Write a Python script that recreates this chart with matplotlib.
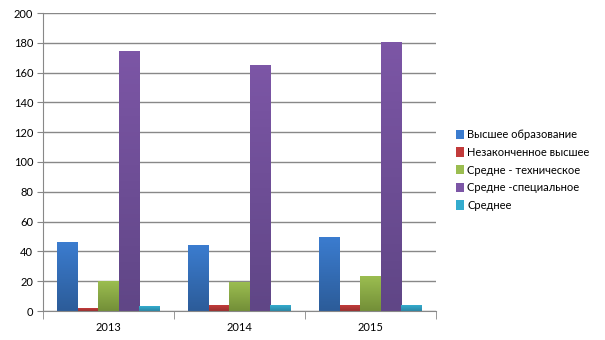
import numpy as np
import matplotlib.pyplot as plt
from matplotlib.colors import LinearSegmentedColormap

plt.rcParams['font.family'] = ['Lato', 'DejaVu Sans']

years = ['2013', '2014', '2015']
series = ['Высшее образование', 'Незаконченное высшее', 'Средне - техническое',
          'Средне -специальное', 'Среднее']
vysshee = [46, 44, 49]
nezakonch = [2, 3.5, 4]
tehn = [20, 19, 23]
spec = [174, 165, 180]
srednee = [3, 4, 4]
values = [vysshee, nezakonch, tehn, spec, srednee]

# (top colour, bottom colour) for the vertical gradient of each series
colors = [('#3b7ccf', '#2c5c99'),
          ('#c23b3b', '#9a302e'),
          ('#9bbd50', '#738f38'),
          ('#7c56a6', '#604686'),
          ('#34acce', '#2b87a5')]

fig = plt.figure(figsize=(6.05, 3.4), dpi=100)
ax = fig.add_axes([43 / 605, 29 / 340, 393 / 605, 298 / 340])

n = len(series)
group = 0.78
w = group / n
x = np.arange(len(years))

for i, (name, vals, (ctop, cbot)) in enumerate(zip(series, values, colors)):
    cmap = LinearSegmentedColormap.from_list(name, [cbot, ctop])
    pos = x - group / 2 + w * (i + 0.5)
    bars = ax.bar(pos, vals, width=w, color=ctop, label=name, zorder=2)
    for b in bars:
        x0, y0 = b.get_x(), b.get_y()
        ax.imshow(np.linspace(0, 1, 64).reshape(-1, 1), cmap=cmap, origin='lower',
                  extent=(x0, x0 + b.get_width(), y0, y0 + b.get_height()),
                  aspect='auto', zorder=2.5)

ax.set_xlim(-0.5, len(years) - 0.5)
ax.set_ylim(0, 200)
ax.set_yticks(range(0, 201, 20))
ax.set_xticks(x)
ax.set_xticklabels(years)
ax.set_xticks(np.arange(-0.5, len(years)), minor=True)
ax.tick_params(axis='x', which='major', length=0, labelsize=8, pad=8)
ax.tick_params(axis='x', which='minor', length=6, color='#888888')
ax.tick_params(axis='y', length=4, color='#888888', labelsize=8, pad=3)
ax.grid(axis='y', color='#888888', linewidth=1, zorder=0)
ax.set_axisbelow(True)
for s in ['top', 'right']:
    ax.spines[s].set_visible(False)
for s in ['left', 'bottom']:
    ax.spines[s].set_color('#888888')

ax.legend(loc='center left', bbox_to_anchor=(452 / 605, 170 / 340),
          bbox_transform=fig.transFigure, frameon=False, fontsize=8,
          handlelength=0.7, handleheight=0.9, handletextpad=0.25, labelspacing=0.6,
          borderaxespad=0)

fig.savefig('out.png', dpi=100)
